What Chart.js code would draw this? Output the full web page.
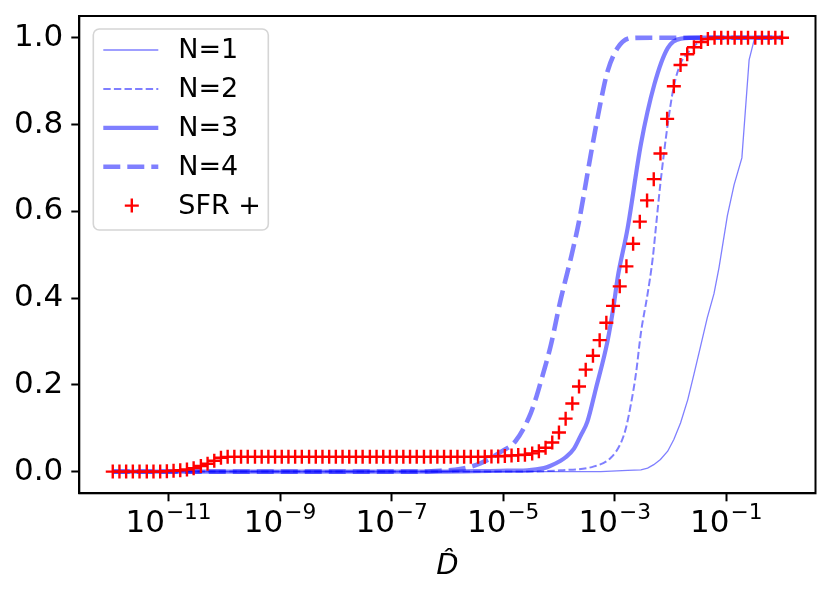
<!DOCTYPE html>
<html>
<head>
<meta charset="utf-8">
<script src="https://cdn.jsdelivr.net/npm/chart.js@4.4.1/dist/chart.umd.min.js"></script>
<style>
  html, body { margin: 0; padding: 0; background: #fff; }
  canvas { display: block; }
</style>
</head>
<body>
<canvas id="cdf-chart" width="831" height="600"></canvas>
<script>
// Cumulative curves of D-hat for N = 1..4, plus the SFR + markers
// x positions are kept as log10 exponents

const sfrExp = [
    -12.00, -11.88, -11.76, -11.64, -11.52, -11.39, -11.27, -11.15, -11.03, -10.91,
    -10.79, -10.67, -10.55, -10.42, -10.30, -10.18, -10.06, -9.94, -9.82, -9.70,
    -9.58, -9.45, -9.33, -9.21, -9.09, -8.97, -8.85, -8.73, -8.61, -8.48,
    -8.36, -8.24, -8.12, -8.00, -7.88, -7.76, -7.64, -7.52, -7.39, -7.27,
    -7.15, -7.03, -6.91, -6.79, -6.67, -6.55, -6.42, -6.30, -6.18, -6.06,
    -5.94, -5.82, -5.70, -5.58, -5.45, -5.33, -5.21, -5.09, -4.97, -4.85,
    -4.73, -4.61, -4.48, -4.36, -4.24, -4.12, -4.00, -3.88, -3.76, -3.64,
    -3.52, -3.39, -3.27, -3.15, -3.03, -2.91, -2.79, -2.67, -2.55, -2.42,
    -2.30, -2.18, -2.06, -1.94, -1.82, -1.70, -1.58, -1.45, -1.33, -1.21,
    -1.09, -0.97, -0.85, -0.73, -0.61, -0.48, -0.36, -0.24, -0.12, 0.00
];
const sfrVal = [
    0, 0, 0, 0, 0, 0, 0, 0, 0.001, 0.002,
    0.003, 0.005, 0.008, 0.013, 0.018, 0.025, 0.032, 0.034, 0.034, 0.034,
    0.034, 0.034, 0.034, 0.034, 0.034, 0.034, 0.034, 0.034, 0.034, 0.034,
    0.034, 0.034, 0.034, 0.034, 0.034, 0.034, 0.034, 0.034, 0.034, 0.034,
    0.034, 0.034, 0.034, 0.034, 0.034, 0.034, 0.034, 0.034, 0.034, 0.034,
    0.034, 0.034, 0.034, 0.034, 0.034, 0.034, 0.035, 0.035, 0.036, 0.037,
    0.038, 0.039, 0.042, 0.047, 0.055, 0.067, 0.090, 0.122, 0.157, 0.196,
    0.235, 0.267, 0.303, 0.343, 0.382, 0.427, 0.473, 0.525, 0.576, 0.625,
    0.674, 0.733, 0.813, 0.888, 0.937, 0.962, 0.978, 0.990, 0.997, 1.0,
    1.0, 1.0, 1.0, 1.0, 1.0, 1.0, 1.0, 1.0, 1.0, 1.0
];

const n1Exp = [-12, -3.25, -2.77, -2.53, -2.41, -2.30, -2.18, -2.05, -1.94, -1.82, -1.69, -1.58,
    -1.46, -1.34, -1.22, -1.13, -0.98, -0.86, -0.72, -0.59, -0.50, -0.45, 0];
const n1Val = [0, 0, 0.003, 0.004, 0.008, 0.016, 0.028, 0.047, 0.074, 0.112, 0.166, 0.224,
    0.289, 0.355, 0.41, 0.47, 0.59, 0.661, 0.723, 0.949, 0.995, 1.0, 1.0];

const n2Exp = [-12, -4.69, -3.97, -3.37, -3.07, -2.89, -2.80, -2.71, -2.62, -2.53, -2.41,
    -2.32, -2.26, -2.18, -2.05, -1.94, -1.82, -1.69, -1.51, -1.28, 0];
const n2Val = [0, 0, 0.003, 0.012, 0.032, 0.066, 0.10, 0.155, 0.225, 0.32, 0.41,
    0.49, 0.565, 0.665, 0.80, 0.888, 0.94, 0.965, 0.988, 1.0, 1.0];

const n3Exp = [-12, -6.13, -5.05, -4.57, -4.27, -4.16, -3.97, -3.88, -3.73, -3.61, -3.49,
    -3.34, -3.13, -3.01, -2.95, -2.77, -2.53, -2.29, -2.05, -1.81, -1.45, 0];
const n3Val = [0, 0, 0.002, 0.003, 0.008, 0.013, 0.025, 0.033, 0.053, 0.083, 0.115,
    0.19, 0.30, 0.39, 0.445, 0.56, 0.755, 0.892, 0.976, 0.998, 1.0, 1.0];

const n4Exp = [-12, -6.49, -6.13, -5.77, -5.41, -5.05, -4.78, -4.54, -4.42, -4.33, -4.15,
    -3.97, -3.79, -3.64, -3.43, -3.25, -3.13, -2.95, -2.71, -2.35, 0];
const n4Val = [0, 0, 0.002, 0.006, 0.019, 0.045, 0.07, 0.124, 0.166, 0.205, 0.289,
    0.396, 0.49, 0.577, 0.73, 0.853, 0.922, 0.976, 0.999, 1.0, 1.0];

const xTickExp = [-11, -9, -7, -5, -3, -1];
const yTicks = [0, 0.2, 0.4, 0.6, 0.8, 1.0];

const FONT = '"DejaVu Sans", sans-serif';
const TICK_SIZE = 31;
const lineBlue = 'rgba(0, 0, 255, 0.5)';

const toPoints = (exps, vals) => exps.map((e, i) => ({ x: Math.pow(10, e), y: vals[i] }));

// top/right spines
const framePlugin = {
    id: 'frame',
    afterDatasetsDraw(chart) {
        const { ctx, chartArea: a } = chart;
        ctx.save();
        ctx.strokeStyle = '#000';
        ctx.lineWidth = 2;
        ctx.strokeRect(a.left, a.top, a.right - a.left, a.bottom - a.top);
        ctx.restore();
    }
};

// 10^n tick labels with a raised exponent
const powerLabels = {
    id: 'powerLabels',
    afterDraw(chart) {
        const ctx = chart.ctx;
        const scale = chart.scales.x;
        const base = scale.top + 38.5;
        const supSize = TICK_SIZE * 0.7;
        ctx.save();
        ctx.fillStyle = '#000';
        ctx.textAlign = 'left';
        ctx.textBaseline = 'alphabetic';
        xTickExp.forEach(e => {
            const px = scale.getPixelForValue(Math.pow(10, e));
            const sup = (e < 0 ? '\u2212' : '') + Math.abs(e);
            ctx.font = TICK_SIZE + 'px ' + FONT;
            const wb = ctx.measureText('10').width;
            ctx.font = supSize + 'px ' + FONT;
            const ws = ctx.measureText(sup).width;
            const x0 = px - (wb + ws + 1) / 2;
            ctx.font = TICK_SIZE + 'px ' + FONT;
            ctx.fillText('10', x0, base);
            ctx.font = supSize + 'px ' + FONT;
            ctx.fillText(sup, x0 + wb + 1, base - 12.5);
        });
        ctx.restore();
    }
};

// legend box in the upper left of the axes
const boxLegend = {
    id: 'boxLegend',
    afterDatasetsDraw(chart) {
        const { ctx, chartArea: a } = chart;
        const left = a.left + 14, top = a.top + 13, w = 175, h = 201, r = 6;
        ctx.save();
        ctx.beginPath();
        ctx.moveTo(left + r, top);
        ctx.arcTo(left + w, top, left + w, top + h, r);
        ctx.arcTo(left + w, top + h, left, top + h, r);
        ctx.arcTo(left, top + h, left, top, r);
        ctx.arcTo(left, top, left + w, top, r);
        ctx.closePath();
        ctx.fillStyle = 'rgba(255, 255, 255, 0.8)';
        ctx.fill();
        ctx.strokeStyle = '#d5d5d5';
        ctx.lineWidth = 1.6;
        ctx.stroke();

        chart.data.datasets.forEach((ds, i) => {
            const y = top + 21 + i * 38.9;
            if (ds.showLine === false) {
                const cx = left + 38.5, s = ds.pointRadius;
                ctx.setLineDash([]);
                ctx.strokeStyle = ds.pointBorderColor;
                ctx.lineWidth = ds.pointBorderWidth;
                ctx.beginPath();
                ctx.moveTo(cx - s, y); ctx.lineTo(cx + s, y);
                ctx.moveTo(cx, y - s); ctx.lineTo(cx, y + s);
                ctx.stroke();
            } else {
                ctx.setLineDash(ds.borderDash || []);
                ctx.strokeStyle = ds.borderColor;
                ctx.lineWidth = ds.borderWidth;
                ctx.beginPath();
                ctx.moveTo(left + 10, y);
                ctx.lineTo(left + 65, y);
                ctx.stroke();
            }
            ctx.setLineDash([]);
            ctx.fillStyle = '#000';
            ctx.font = '27px ' + FONT;
            ctx.textAlign = 'left';
            ctx.textBaseline = 'middle';
            ctx.fillText(ds.label, left + 85, y + 1);
        });
        ctx.restore();
    }
};

new Chart(document.getElementById('cdf-chart'), {
    type: 'scatter',
    data: {
        datasets: [
            {
                label: 'N=1',
                data: toPoints(n1Exp, n1Val),
                showLine: true,
                borderColor: lineBlue,
                borderWidth: 1.3,
                pointRadius: 0,
                order: 5
            },
            {
                label: 'N=2',
                data: toPoints(n2Exp, n2Val),
                showLine: true,
                cubicInterpolationMode: 'monotone',
                borderColor: lineBlue,
                borderWidth: 2,
                borderDash: [7.4, 3.2],
                pointRadius: 0,
                order: 4
            },
            {
                label: 'N=3',
                data: toPoints(n3Exp, n3Val),
                showLine: true,
                cubicInterpolationMode: 'monotone',
                borderColor: lineBlue,
                borderWidth: 4.2,
                pointRadius: 0,
                order: 3
            },
            {
                label: 'N=4',
                data: toPoints(n4Exp, n4Val),
                showLine: true,
                cubicInterpolationMode: 'monotone',
                borderColor: lineBlue,
                borderWidth: 4.6,
                borderDash: [17, 7],
                pointRadius: 0,
                order: 2
            },
            {
                label: 'SFR +',
                data: toPoints(sfrExp, sfrVal),
                showLine: false,
                pointStyle: 'cross',
                pointRadius: 7,
                pointBorderWidth: 2.4,
                pointBorderColor: '#ff0000',
                pointBackgroundColor: '#ff0000',
                order: 1
            }
        ]
    },
    options: {
        responsive: false,
        animation: false,
        devicePixelRatio: 1,
        layout: { padding: { left: 0, right: 15.5, top: 16, bottom: 0 } },
        plugins: {
            legend: { display: false },
            tooltip: { enabled: false }
        },
        scales: {
            x: {
                type: 'logarithmic',
                min: Math.pow(10, -12.6),
                max: Math.pow(10, 0.6),
                bounds: 'data',
                afterBuildTicks: (s) => { s.ticks = xTickExp.map(e => ({ value: Math.pow(10, e) })); },
                afterFit: (s) => {
                    s.height = 106.7;
                    s.paddingLeft = 0;
                    s.paddingRight = 0;
                },
                grid: {
                    drawOnChartArea: false,
                    drawTicks: true,
                    tickLength: 8,
                    tickWidth: 2,
                    tickColor: '#000'
                },
                border: { display: true, color: '#000', width: 2 },
                ticks: {
                    autoSkip: false,
                    maxRotation: 0,
                    font: { family: FONT, size: TICK_SIZE },
                    callback: () => ''
                },
                title: {
                    display: true,
                    text: 'D\u0302',
                    color: '#000',
                    font: { family: FONT, size: 29, style: 'italic' },
                    padding: { top: 0, bottom: 16 }
                }
            },
            y: {
                type: 'linear',
                min: -0.05,
                max: 1.05,
                afterBuildTicks: (s) => { s.ticks = yTicks.map(v => ({ value: v })); },
                afterFit: (s) => {
                    s.width = 79.3;
                    s.paddingTop = 0;
                    s.paddingBottom = 0;
                },
                grid: {
                    drawOnChartArea: false,
                    drawTicks: true,
                    tickLength: 8,
                    tickWidth: 2,
                    tickColor: '#000'
                },
                border: { display: true, color: '#000', width: 2 },
                ticks: {
                    color: '#000',
                    padding: 8,
                    font: { family: FONT, size: TICK_SIZE },
                    callback: (v) => v.toFixed(1)
                }
            }
        }
    },
    plugins: [framePlugin, boxLegend, powerLabels]
});
</script>
</body>
</html>
